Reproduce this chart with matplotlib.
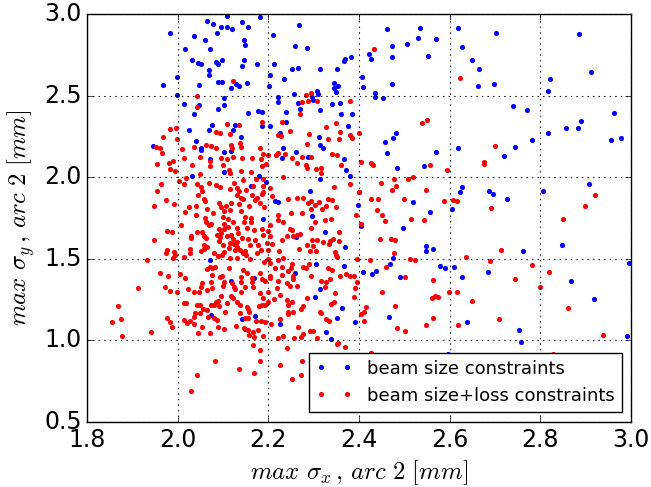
import numpy as np
import matplotlib
matplotlib.use("Agg")
import matplotlib.pyplot as plt

plt.style.use("classic")

# (max sigma_x, max sigma_y) in mm
blue_pts = [
    (2.108,2.988),(2.182,2.984),(2.065,2.957),(2.078,2.939),(2.096,2.924),(2.109,2.922),(2.119,2.906),
    (2.142,2.949),(2.155,2.922),(1.982,2.886),(2.035,2.863),(2.086,2.884),(2.060,2.843),(2.147,2.839),
    (2.149,2.810),(2.015,2.786),(2.070,2.788),(2.209,2.871),(2.031,2.718),(2.044,2.702),(2.052,2.692),
    (2.084,2.706),(2.089,2.692),(2.098,2.716),(2.145,2.720),(2.141,2.680),(2.175,2.696),(2.212,2.696),
    (2.068,2.657),(2.068,2.627),(1.998,2.614),(2.204,2.629),(1.968,2.565),(2.046,2.567),(2.088,2.582),
    (2.098,2.582),(2.129,2.573),(2.135,2.561),(2.153,2.576),(2.118,2.547),(2.202,2.557),(1.999,2.502),
    (2.102,2.486),(2.014,2.447),(2.046,2.445),(2.103,2.443),(2.088,2.418),(2.035,2.390),(2.154,2.394),
    (2.177,2.408),(2.185,2.400),(2.186,2.314),(2.203,2.312),(2.076,2.322),(2.126,2.318),(2.068,2.288),
    (2.025,2.288),(2.122,2.288),(2.140,2.249),(2.040,2.225),(1.945,2.190),(2.052,2.178),
    (2.268,2.931),(2.462,2.908),(2.535,2.912),(2.259,2.804),(2.285,2.790),(2.473,2.806),(2.505,2.816),
    (2.530,2.851),(2.569,2.845),(2.422,2.755),(2.427,2.727),(2.369,2.727),(2.366,2.712),(2.383,2.737),
    (2.473,2.737),(2.553,2.745),(2.252,2.665),(2.266,2.667),(2.313,2.665),(2.352,2.665),(2.235,2.604),
    (2.407,2.612),(2.345,2.580),(2.354,2.559),(2.344,2.547),(2.349,2.525),(2.409,2.551),(2.472,2.573),
    (2.257,2.510),(2.307,2.529),(2.310,2.512),(2.297,2.490),(2.298,2.473),(2.222,2.490),(2.222,2.461),
    (2.265,2.455),(2.270,2.418),(2.314,2.414),(2.341,2.451),(2.358,2.453),(2.436,2.514),(2.435,2.494),
    (2.452,2.486),(2.238,2.398),(2.360,2.390),(2.385,2.386),(2.239,2.337),(2.375,2.314),(2.225,2.269),
    (2.311,2.247),(2.232,2.182),(2.313,2.200),(2.321,2.182),(2.481,2.269),(2.476,2.241),(2.457,2.218),
    (2.619,2.912),(2.703,2.884),(2.885,2.878),(2.628,2.798),(2.650,2.716),(2.665,2.663),(2.913,2.645),
    (2.822,2.602),(2.663,2.561),(2.699,2.573),(2.817,2.526),(2.740,2.435),(2.770,2.412),(2.962,2.392),
    (2.890,2.345),(2.857,2.302),(2.884,2.302),(2.818,2.271),(2.781,2.227),(2.956,2.229),(2.978,2.243),
    (2.619,2.182),(2.745,2.186),
    (2.052,2.167),(2.072,2.114),(2.103,2.157),(2.118,2.161),(2.101,2.035),(2.032,2.010),(2.180,2.006),
    (2.161,1.945),(2.215,1.857),(2.187,1.743),(2.072,1.494),(2.117,1.367),(2.169,1.382),(2.194,1.971),
    (2.230,2.120),(2.261,2.157),(2.288,2.122),(2.366,2.112),(2.371,2.045),(2.380,2.006),(2.314,1.990),
    (2.461,2.151),(2.484,2.055),(2.543,2.069),(2.570,2.157),(2.400,1.908),(2.398,1.830),(2.292,1.918),
    (2.222,1.851),(2.296,1.765),(2.325,1.665),(2.260,1.633),(2.369,1.575),(2.405,1.702),(2.497,1.686),
    (2.520,1.847),(2.556,1.788),(2.605,1.808),(2.548,1.577),(2.564,1.559),(2.548,1.551),(2.475,1.504),
    (2.468,1.467),(2.578,1.459),(2.590,1.445),(2.610,1.449),(2.437,1.428),(2.408,1.418),(2.428,1.406),
    (2.491,1.388),(2.259,1.416),(2.304,1.467),(2.366,1.459),
    (2.721,2.133),(2.628,1.943),(2.624,1.912),(2.688,1.918),(2.695,1.896),(2.727,1.865),(2.806,1.918),
    (2.907,1.957),(2.763,1.547),(2.849,1.584),(2.627,1.388),(2.684,1.422),(2.868,1.367),(2.996,1.477),
    (2.074,1.153),(2.141,1.132),(2.171,1.151),(2.149,1.067),
    (2.314,1.314),(2.303,1.265),(2.363,1.198),(2.351,1.136),(2.391,1.112),(2.226,1.100),(2.327,1.049),
    (2.338,1.008),(2.466,1.143),(2.426,0.922),(2.597,0.918),
    (2.638,1.112),(2.753,1.065),(2.757,0.989),(2.918,1.253),(2.991,1.030),
]

red_pts = [
    (2.122,2.590),(2.042,2.496),(2.043,2.429),(1.982,2.298),(1.995,2.302),(1.968,2.249),(1.999,2.235),
    (2.109,2.324),(2.135,2.318),(2.085,2.278),(2.092,2.269),(2.115,2.265),(2.185,2.339),(1.952,2.188),
    (1.960,2.178),(2.010,2.176),(2.035,2.188),(2.063,2.200),(2.074,2.192),(2.085,2.178),(2.118,2.200),
    (2.120,2.180),(2.138,2.208),(2.139,2.184),(2.182,2.180),
    (2.434,2.788),(2.284,2.506),(2.295,2.514),(2.274,2.461),(2.288,2.465),(2.307,2.469),(2.381,2.469),
    (2.269,2.386),(2.229,2.337),(2.327,2.306),(2.349,2.335),(2.248,2.282),(2.222,2.261),(2.228,2.251),
    (2.290,2.263),(2.358,2.278),(2.380,2.257),(2.385,2.239),(2.400,2.271),(2.332,2.235),(2.355,2.235),
    (2.285,2.206),(2.539,2.333),(2.550,2.353),
    (2.623,2.606),(2.701,2.190),
    (1.965,2.147),(2.014,2.116),(1.990,2.100),(1.980,2.086),(1.954,2.082),(1.982,2.049),(1.993,2.039),
    (2.032,2.073),(2.049,2.122),(2.071,2.102),(2.071,2.067),(2.096,2.120),(2.109,2.114),(2.122,2.126),
    (2.141,2.116),(2.163,2.118),(2.184,2.110),(2.189,2.143),(2.200,2.139),(2.217,2.137),(2.185,2.067),
    (2.195,2.079),(2.100,2.075),(2.113,2.045),(2.116,2.026),(2.140,2.037),(2.161,2.035),(2.048,2.020),
    (2.003,1.978),(1.963,1.959),(2.014,1.957),(2.043,1.957),(2.052,1.939),(2.054,1.918),(2.084,1.953),
    (2.093,1.941),(2.115,1.926),(2.125,1.967),(2.131,1.935),(2.134,1.916),(2.150,1.922),(2.167,1.947),
    (2.173,1.988),(2.187,1.988),(2.187,1.949),(2.185,1.896),(2.203,1.937),(2.207,1.888),(1.954,1.914),
    (1.973,1.861),(1.991,1.837),(1.948,1.822),(2.025,1.816),(2.016,1.788),(2.041,1.824),(2.057,1.865),
    (2.061,1.857),(2.064,1.804),(2.077,1.784),(2.090,1.841),(2.096,1.820),(2.101,1.796),(2.107,1.824),
    (2.118,1.841),(2.115,1.800),(2.136,1.835),(2.139,1.875),(2.143,1.865),(2.140,1.792),(2.158,1.822),
    (2.170,1.861),(2.175,1.871),(2.181,1.845),(2.190,1.820),(2.162,1.749),(2.162,1.724),(2.146,1.728),
    (2.153,1.692),(2.169,1.678),(2.185,1.685),(2.200,1.669),(2.203,1.708),(2.204,1.637),(2.207,1.590),
    (2.060,1.749),(2.063,1.728),(2.069,1.706),(2.074,1.716),(2.053,1.663),(2.043,1.663),(2.057,1.641),
    (2.063,1.629),(2.007,1.710),(1.976,1.673),(1.987,1.663),(1.948,1.614),(2.029,1.641),(2.028,1.626),
    (2.090,1.684),(2.102,1.684),(2.110,1.696),(2.103,1.716),(2.122,1.728),(2.130,1.692),(2.086,1.647),
    (2.091,1.610),(2.094,1.633),(2.108,1.641),(2.118,1.647),(2.122,1.620),(2.116,1.600),(2.123,1.590),
    (2.130,1.602),(2.112,1.569),(2.126,1.555),(2.138,1.555),(2.149,1.549),(2.150,1.525),(2.176,1.585),
    (2.171,1.616),(2.184,1.555),(2.200,1.555),(2.155,1.622),(2.057,1.586),(2.065,1.575),(2.057,1.559),
    (2.052,1.549),(2.027,1.561),(1.976,1.555),(1.974,1.537),(1.991,1.543),(1.994,1.524),(2.014,1.514),
    (1.989,1.504),(1.932,1.494),(2.080,1.535),(2.088,1.518),(2.098,1.524),(2.103,1.541),(2.115,1.504),
    (2.131,1.504),(2.160,1.500),(2.175,1.535),(2.200,1.498),(2.191,1.479),(2.204,1.473),(2.070,1.453),
    (2.075,1.441),(2.082,1.449),(2.064,1.437),(2.113,1.443),(2.144,1.433),(2.152,1.416),(2.182,1.412),
    (2.204,1.396),(2.215,1.443),(1.960,1.416),(1.979,1.392),(2.005,1.408),(2.016,1.382),(2.076,1.400),
    (2.092,1.386),(2.097,1.396),(2.140,1.386),(2.163,1.382),(2.164,1.357),(2.185,1.375),(2.192,1.363),
    (2.204,1.384),(2.053,1.351),(2.074,1.361),(2.101,1.355),(2.119,1.351),(2.139,1.359),
    (2.019,1.994),(2.045,1.892),(2.069,1.967),(2.131,1.892),(2.144,1.983),(2.188,1.912),(2.163,1.892),
    (2.041,1.769),(2.111,1.745),(2.099,1.759),(2.148,1.757),(2.027,1.534),(2.096,1.657),(2.100,1.585),
    (2.133,1.657),(2.141,1.626),(2.144,1.534),(2.159,1.585),(2.188,1.647),(2.196,1.596),(2.130,1.575),
    (2.222,2.147),(2.237,2.143),(2.252,2.118),(2.275,2.126),(2.294,2.122),(2.263,2.086),(2.284,2.073),
    (2.285,2.055),(2.305,2.049),(2.317,2.055),(2.316,2.024),(2.340,2.145),(2.352,2.139),(2.360,2.075),
    (2.232,2.004),(2.405,2.092),(2.427,2.090),(2.430,2.075),(2.557,2.073),(2.595,2.045),(2.379,1.957),
    (2.345,1.939),(2.399,1.912),(2.449,1.965),(2.478,1.992),(2.508,1.990),(2.519,2.004),(2.481,1.945),
    (2.472,1.920),(2.548,1.922),(2.244,1.867),(2.264,1.875),(2.277,1.875),(2.293,1.857),(2.288,1.841),
    (2.302,1.830),(2.311,1.847),(2.332,1.865),(2.340,1.861),(2.327,1.824),(2.349,1.820),(2.318,1.808),
    (2.293,1.806),(2.275,1.784),(2.249,1.779),(2.222,1.769),(2.222,1.739),(2.233,1.724),(2.248,1.684),
    (2.253,1.678),(2.241,1.637),(2.231,1.616),(2.254,1.643),(2.264,1.647),(2.269,1.651),(2.294,1.688),
    (2.302,1.726),(2.324,1.739),(2.338,1.745),(2.355,1.667),(2.296,1.616),(2.307,1.616),(2.320,1.604),
    (2.336,1.610),(2.343,1.620),(2.355,1.612),(2.334,1.594),(2.285,1.582),(2.299,1.579),(2.268,1.561),
    (2.292,1.549),(2.304,1.549),(2.223,1.545),(2.347,1.543),(2.349,1.524),(2.352,1.514),(2.427,1.867),
    (2.441,1.867),(2.439,1.800),(2.450,1.767),(2.457,1.731),(2.393,1.767),(2.405,1.716),(2.499,1.867),
    (2.514,1.747),(2.543,1.739),(2.588,1.857),(2.607,1.861),(2.446,1.622),(2.471,1.622),(2.479,1.614),
    (2.477,1.535),(2.424,1.490),(2.395,1.498),(2.459,1.449),(2.513,1.498),(2.524,1.490),(2.502,1.390),
    (2.564,1.373),(2.232,1.504),(2.222,1.494),(2.230,1.453),(2.252,1.467),(2.249,1.443),(2.244,1.428),
    (2.277,1.453),(2.283,1.443),(2.289,1.469),(2.254,1.396),(2.255,1.375),(2.230,1.402),(2.222,1.365),
    (2.241,1.351),(2.293,1.396),(2.316,1.365),(2.327,1.361),(2.336,1.375),(2.332,1.443),(2.340,1.430),
    (2.358,1.392),(2.371,1.406),(2.380,1.392),(2.388,1.392),(2.395,1.355),
    (2.676,2.096),(2.676,2.082),(2.616,1.857),(2.691,1.812),(2.921,1.890),(2.899,1.822),(2.850,1.747),
    (2.713,1.553),(2.636,1.512),(2.689,1.484),(2.781,1.461),(2.745,1.375),(2.819,1.422),
    (1.913,1.324),(1.971,1.330),(1.982,1.302),(1.999,1.296),(2.022,1.318),(2.036,1.296),(2.046,1.296),
    (2.051,1.330),(2.065,1.310),(2.075,1.324),(2.100,1.334),(2.123,1.330),(2.127,1.314),(2.139,1.296),
    (2.149,1.330),(2.167,1.330),(2.182,1.290),(2.187,1.263),(2.200,1.296),(2.213,1.255),(2.218,1.320),
    (1.868,1.208),(1.854,1.112),(1.874,1.132),(1.877,1.024),(1.941,1.051),(1.977,1.136),(1.982,1.110),
    (1.988,1.085),(2.013,1.228),(2.017,1.232),(2.042,1.218),(2.050,1.218),(2.039,1.171),(2.049,1.167),
    (2.056,1.194),(2.035,1.146),(2.014,1.126),(2.020,1.106),(2.027,1.116),(2.035,1.102),(2.053,1.085),
    (2.044,1.045),(2.064,1.187),(2.066,1.146),(2.073,1.214),(2.080,1.214),(2.084,1.238),(2.088,1.242),
    (2.095,1.271),(2.091,1.208),(2.104,1.177),(2.079,1.136),(2.086,1.126),(2.088,1.085),(2.071,1.045),
    (2.101,1.069),(2.108,1.228),(2.118,1.273),(2.121,1.259),(2.130,1.234),(2.138,1.218),(2.152,1.206),
    (2.156,1.192),(2.157,1.177),(2.138,1.171),(2.149,1.136),(2.156,1.136),(2.129,1.087),(2.146,1.079),
    (2.154,1.065),(2.158,1.034),(2.167,1.049),(2.169,1.018),(2.165,0.973),(2.178,1.065),(2.173,1.122),
    (2.183,1.122),(2.193,1.112),(2.188,1.024),(2.182,0.943),(2.181,0.875),(2.168,0.800),(2.205,1.100),
    (2.180,1.210),(2.186,1.214),(2.192,1.214),(2.198,1.234),(2.082,0.873),(2.042,0.789),(2.029,0.687),
    (2.136,0.826),
    (2.248,1.334),(2.263,1.334),(2.325,1.330),(2.347,1.290),(2.391,1.320),(2.388,1.269),(2.226,1.279),
    (2.241,1.249),(2.252,1.238),(2.244,1.214),(2.244,1.173),(2.243,1.161),(2.255,1.177),(2.271,1.191),
    (2.277,1.208),(2.286,1.259),(2.313,1.177),(2.316,1.171),(2.338,1.222),(2.345,1.234),(2.327,1.130),
    (2.333,1.120),(2.226,1.130),(2.265,1.085),(2.292,1.059),(2.298,1.059),(2.277,1.038),(2.272,1.020),
    (2.257,1.014),(2.232,1.030),(2.222,1.014),(2.308,1.014),(2.351,0.977),(2.354,0.983),(2.368,0.959),
    (2.242,0.953),(2.226,0.847),(2.275,0.871),(2.271,0.785),(2.252,0.765),(2.386,0.912),(2.405,1.161),
    (2.411,1.177),(2.416,1.202),(2.411,1.120),(2.450,1.296),(2.480,1.208),(2.483,1.075),(2.502,1.059),
    (2.547,1.092),(2.563,1.136),(2.560,1.259),(2.567,1.275),(2.575,1.265),(2.599,1.296),(2.427,0.922),
    (2.617,1.296),(2.649,1.243),(2.618,1.096),(2.709,1.132),(2.800,1.326),(2.861,1.198),(2.938,1.032),
    (2.829,0.916),
]

blue_label = "beam size constraints"
red_label = "beam size+loss constraints"
x_ticks = [1.8, 2.0, 2.2, 2.4, 2.6, 2.8, 3.0]
y_ticks = [0.5, 1.0, 1.5, 2.0, 2.5, 3.0]

bx, by = np.array(blue_pts).T
rx, ry = np.array(red_pts).T

fig = plt.figure(figsize=(6.51, 4.87), dpi=100, facecolor="white")
ax = fig.add_axes([0.134, 0.1335, 0.835, 0.8375])

ax.plot(bx, by, linestyle="none", marker="o", ms=3.7, mew=0, color="#0000ff", label=blue_label)
ax.plot(rx, ry, linestyle="none", marker="o", ms=3.7, mew=0, color="#ff0000", label=red_label)

ax.set_xlim(1.8, 3.0)
ax.set_ylim(0.5, 3.0)
ax.set_xticks(x_ticks)
ax.set_yticks(y_ticks)
ax.set_xticklabels([f"{t:.1f}" for t in x_ticks])
ax.set_yticklabels([f"{t:.1f}" for t in y_ticks])
ax.tick_params(labelsize=17, direction="in", top=True, right=True)
ax.grid(True, linestyle=":", color="black", linewidth=0.8)

ax.set_xlabel(r"$max\ \sigma_x\,,\,arc\ 2\ [mm]$", fontsize=17.8)
ax.set_ylabel(r"$max\ \sigma_y\,,\,arc\ 2\ [mm]$", fontsize=17.8)

leg = ax.legend(loc="lower right", bbox_to_anchor=(0.983, 0.0245), borderaxespad=0,
                numpoints=2, fontsize=13, fancybox=False, frameon=True)
leg.get_frame().set_edgecolor("black")

fig.savefig("out.png", dpi=100, facecolor="white")
